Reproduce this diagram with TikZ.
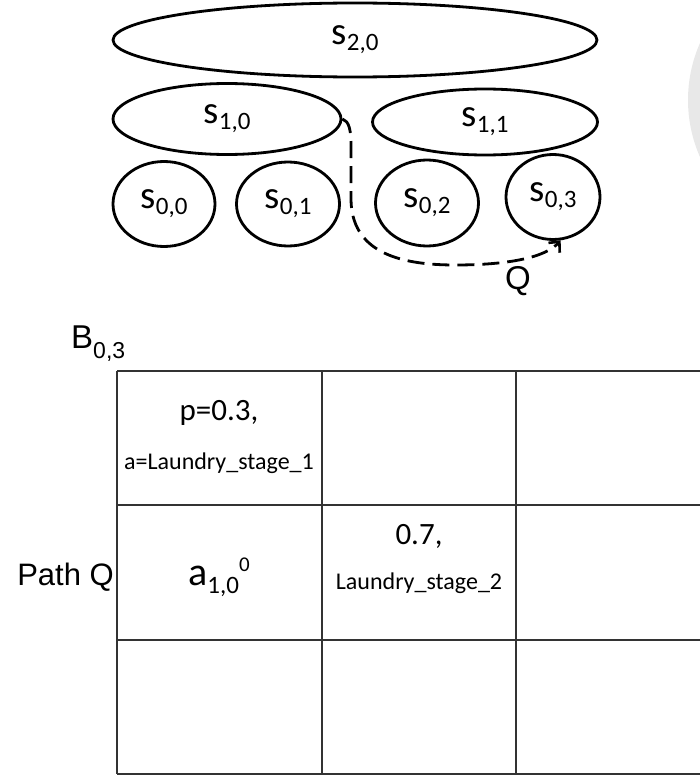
\documentclass[tikz,border=0pt]{standalone}
\usepackage{fontspec}
\setmainfont{Carlito}
\newfontfamily\arialish{Liberation Sans}
\usetikzlibrary{shapes.geometric,arrows.meta}

% label with a lowered index, sizes in pt
\newcommand\idx[4]{#1\raisebox{-#4pt}{\fontsize{#3}{#3}\selectfont #2}}

\begin{document}
\begin{tikzpicture}[x=1pt,y=-1pt,
  setnode/.style={ellipse, draw, line width=2.8pt, inner sep=0pt,
    font=\fontsize{39}{39}\selectfont},
  grid/.style={line width=1.7pt, draw=black!80},
  celltext/.style={inner sep=0pt, align=center},
  path/.style={dashed, dash pattern=on 17pt off 8pt, line width=2.8pt,
    -{Straight Barb[length=8pt,width=15pt,line width=2.6pt]}}]
\useasboundingbox (0,0) rectangle (700,776);
\clip (0,0) rectangle (700,776);

% faint round shape cut by the right border
\fill[black!9] (829,100) circle[radius=141pt];

% hierarchy of state sets
\node[setnode, minimum width=484pt, minimum height=74pt] (s20) at (355,40) {\idx{s}{2,0}{25}{6}};
\node[setnode, minimum width=228pt, minimum height=71pt] (s10) at (227,119) {\idx{s}{1,0}{25}{6}};
\node[setnode, minimum width=225pt, minimum height=66pt] (s11) at (485,122) {\idx{s}{1,1}{25}{6}};
\node[setnode, minimum width=102pt, minimum height=85pt] (s00) at (164,204) {\idx{s}{0,0}{25}{6}};
\node[setnode, minimum width=103pt, minimum height=84pt] (s01) at (288,204) {\idx{s}{0,1}{25}{6}};
\node[setnode, minimum width=103pt, minimum height=86pt] (s02) at (427,203) {\idx{s}{0,2}{25}{6}};
\node[setnode, minimum width=94pt, minimum height=85pt] (s03) at (553,197) {\idx{s}{0,3}{25}{6}};

% path Q from s_{1,0} down to s_{0,3}
\coordinate (qa) at (351,145);
\coordinate (qb) at (351,200);
\draw[path] (s10.east) .. controls (349,121) and (351,130) .. (qa) -- (qb)
  .. controls (352,250) and (395,265) .. (455,265)
  .. controls (510,265) and (546,257) .. (s03.-80);
\node[font=\arialish\fontsize{33}{33}\selectfont, inner sep=0pt] (q) at (518,281) {Q};

% table B_{0,3}
\node[font=\arialish\fontsize{33}{33}\selectfont, inner sep=0pt, anchor=base west] (blabel) at (71,348)
  {B\raisebox{-10pt}{\fontsize{23}{23}\selectfont 0,3}};
\draw[grid] (117,371) -- (705,371);
\draw[grid] (117,505) -- (705,505);
\draw[grid] (117,640) -- (705,640);
\draw[grid] (117,774) -- (705,774);
\draw[grid] (117,371) -- (117,774);
\draw[grid] (322,371) -- (322,774);
\draw[grid] (516,371) -- (516,774);

\node[celltext, font=\fontsize{31}{31}\selectfont] (c1a) at (219,413) {p=0.3,};
\node[celltext, font=\fontsize{24}{24}\selectfont] (c1b) at (219,463) {a=Laundry\_stage\_1};
\node[celltext, font=\fontsize{40}{40}\selectfont] (c2) at (219,577)
  {a\raisebox{-8pt}{\fontsize{25}{25}\selectfont 1,0}\raisebox{14pt}{\fontsize{21}{21}\selectfont 0}};
\node[celltext, font=\fontsize{31}{31}\selectfont] (c3a) at (419,536) {0.7,};
\node[celltext, font=\fontsize{24}{24}\selectfont] (c3b) at (419,583) {Laundry\_stage\_2};
\node[font=\arialish\fontsize{31}{31}\selectfont, inner sep=0pt, anchor=east] (pq) at (114,577) {Path Q};
\end{tikzpicture}
\end{document}
